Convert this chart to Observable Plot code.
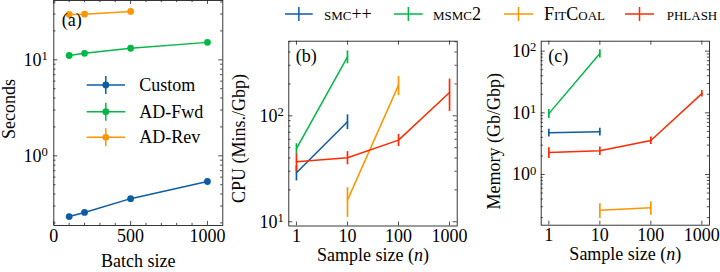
<!DOCTYPE html>
<html><head><meta charset="utf-8">
<script src="https://cdn.jsdelivr.net/npm/d3@7"></script>
<script src="https://cdn.jsdelivr.net/npm/@observablehq/plot@0.6"></script>
<style>
html,body{margin:0;padding:0;background:#fff;}
#wrap{position:relative;width:720px;height:272px;overflow:hidden;font-family:"Liberation Serif","Times New Roman",serif;}
#wrap svg{position:absolute;top:0;}
</style></head><body><div id="wrap"></div>
<script>
// ---------- data ----------
// (a) timing vs batch size
const batchSizes = [100, 200, 500, 1000];
const customSec  = [0.233, 0.257, 0.358, 0.54];
const adFwdSec   = [11.1, 11.7, 13.2, 15.2];
const adRevBatch = [100, 200, 500];
const adRevSec   = [29.7, 29.9, 31.9];
const aSeries = ["Custom", "AD-Fwd", "AD-Rev"];

// (b),(c) per method
const methods = ["smc++", "msmc2", "FitCoal", "phlash"];
const smcN   = [1, 10];
const smcCpu = [29, 88];      const smcCpuErr = [4.7, 14];
const smcMem = [4.74, 4.92];  const smcMemErr = [0.7, 0.7];
const msmcN   = [1, 10];
const msmcCpu = [49, 360];    const msmcCpuErr = [5.5, 50];
const msmcMem = [9.7, 91.4];  const msmcMemErr = [1.6, 14];
const fitN   = [10, 100];
const fitCpu = [16, 195];     const fitCpuErr = [5, 40];
const fitMem = [0.264, 0.288];const fitMemErr = [0.07, 0.07];
const phN   = [1, 10, 100, 1000];
const phCpu = [36.8, 40.2, 59, 166];   const phCpuErr = [7, 5.7, 7.8, 56];
const phMem = [2.27, 2.42, 3.56, 20.5];const phMemErr = [0.45, 0.38, 0.5, 2.5];

// tick labels
const aXTicks = [0, 500, 1000];
const aYTicks = [1, 10];
const nTicks = [1, 10, 100, 1000];
const cpuTicks = [10, 100];
const memTicks = [1, 10, 100];

const palette = ["#0C5DA5", "#00B945", "#FF9500", "#FF2C00"];
const FONT = '"Liberation Serif","Times New Roman",serif';
const FS = 18;
const H = 272;

// ---------- helpers ----------
function logMinor(lo, hi) {
  const out = [];
  for (let k = Math.floor(Math.log10(lo)); k <= Math.ceil(Math.log10(hi)); k++)
    for (let m = 2; m <= 9; m++) { const v = m * 10 ** k; if (v > lo && v < hi) out.push(v); }
  return out;
}
function frameTicks(xMaj, xMin, yMaj, yMin, iw, ih) {
  const s = {stroke: "#222", strokeWidth: 0.8};
  const big = 4, small = 2.2;
  return [
    Plot.tickX(xMaj, {insetTop: ih - big, ...s}),
    Plot.tickX(xMaj, {insetBottom: ih - big, ...s}),
    Plot.tickX(xMin, {insetTop: ih - small, ...s}),
    Plot.tickX(xMin, {insetBottom: ih - small, ...s}),
    Plot.tickY(yMaj, {insetRight: iw - big, ...s}),
    Plot.tickY(yMaj, {insetLeft: iw - big, ...s}),
    Plot.tickY(yMin, {insetRight: iw - small, ...s}),
    Plot.tickY(yMin, {insetLeft: iw - small, ...s})
  ];
}
const expFmt = d => "10^" + Math.round(Math.log10(d));
function rows(names, ns, vs, es) {
  return names.flatMap((m, k) => ns[k].map((n, i) => ({method: m, n, v: vs[k][i], err: es[k][i]})));
}
function postText(svg) {
  d3.select(svg).selectAll("text").each(function () {
    const t = this.textContent;
    const m = /^10\^(-?\d+)$/.exec(t);
    const sel = d3.select(this);
    if (m) {
      sel.text(null);
      sel.append("tspan").text("10");
      sel.append("tspan").attr("dy", "-0.45em").attr("font-size", "0.7em").text(m[1]);
    } else if (t === "Sample size (n)") {
      sel.text(null);
      sel.append("tspan").text("Sample size (");
      sel.append("tspan").attr("font-style", "italic").text("n");
      sel.append("tspan").text(")");
    }
  });
}
function place(svg, left) {
  svg.style.left = left + "px";
  postText(svg);
  document.getElementById("wrap").appendChild(svg);
}
const baseStyle = {fontFamily: FONT, fontSize: FS + "px", color: "black", background: "transparent", overflow: "visible"};

// ---------- panel (a) ----------
{
  const width = 230, mL = 53.3, mR = 7.7, mT = 0, mB = 47;
  const iw = width - mL - mR, ih = H - mT - mB;
  const yDom = [0.188, 41.5];
  const data = [
    ...batchSizes.map((b, i) => ({s: "Custom", b, v: customSec[i]})),
    ...batchSizes.map((b, i) => ({s: "AD-Fwd", b, v: adFwdSec[i]})),
    ...adRevBatch.map((b, i) => ({s: "AD-Rev", b, v: adRevSec[i]}))
  ];
  const svg = Plot.plot({
    width, height: H, marginLeft: mL, marginRight: mR, marginTop: mT, marginBottom: mB,
    style: baseStyle,
    x: {domain: [0, 1100]},
    y: {type: "log", domain: yDom},
    color: {domain: aSeries, range: palette.slice(0, 3)},
    marks: [
      ...frameTicks(aXTicks, d3.range(100, 1100, 100).filter(d => d % 500), aYTicks, logMinor(...yDom), iw, ih),
      Plot.axisX(aXTicks, {tickSize: 0, tickPadding: 4, label: null, tickFormat: d => String(d)}),
      Plot.axisY(aYTicks, {tickSize: 0, tickPadding: 6, label: null, tickFormat: expFmt}),
      Plot.line(data, {x: "b", y: "v", z: "s", stroke: "s", strokeWidth: 1.5}),
      Plot.dot(data, {x: "b", y: "v", fill: "s", r: 3.4}),
      Plot.frame({stroke: "#222", strokeWidth: 0.9}),
      Plot.text(["Batch size"], {frameAnchor: "bottom", dy: 41, lineAnchor: "bottom"}),
      Plot.text(["Seconds"], {frameAnchor: "left", textAnchor: "middle", rotate: -90, dx: -38.5, dy: -4, lineAnchor: "bottom"}),
      Plot.text(["(a)"], {frameAnchor: "top-left", dx: 8, dy: 25, lineAnchor: "bottom"})
    ]
  });
  // legend inside panel (a)
  const lg = d3.select(svg).append("g").attr("font-family", FONT).attr("font-size", FS).attr("text-anchor", "start");
  const ly = [85, 111.7, 137.3];
  aSeries.forEach((s, i) => {
    const c = palette[i];
    lg.append("line").attr("x1", 86.7).attr("x2", 125).attr("y1", ly[i]).attr("y2", ly[i]).attr("stroke", c).attr("stroke-width", 1.5);
    lg.append("line").attr("x1", 105.8).attr("x2", 105.8).attr("y1", ly[i] - 9).attr("y2", ly[i] + 9).attr("stroke", c).attr("stroke-width", 1.5);
    lg.append("circle").attr("cx", 105.8).attr("cy", ly[i]).attr("r", 3.4).attr("fill", c);
    lg.append("text").attr("x", 139.3).attr("y", ly[i]).attr("dy", "0.33em").text(s);
  });
  place(svg, 0);
}

// ---------- panels (b) and (c) ----------
function methodPanel({left, width, mL, mR, mT, mB, yDom, yTicks, vals, errs, yLabel, labelDx, labelDy, letter, letterDy}) {
  const iw = width - mL - mR, ih = H - mT - mB;
  const xDom = [10 ** -0.15, 10 ** 3.15];
  const data = rows(methods, [smcN, msmcN, fitN, phN], vals, errs);
  const svg = Plot.plot({
    width, height: H, marginLeft: mL, marginRight: mR, marginTop: mT, marginBottom: mB,
    style: baseStyle,
    x: {type: "log", domain: xDom},
    y: {type: "log", domain: yDom},
    color: {domain: methods, range: palette},
    marks: [
      ...frameTicks(nTicks, [], yTicks, logMinor(...yDom), iw, ih),
      Plot.axisX(nTicks, {tickSize: 0, tickPadding: 3, label: null, tickFormat: d => String(d)}),
      Plot.axisY(yTicks, {tickSize: 0, tickPadding: 5, label: null, tickFormat: expFmt}),
      Plot.line(data, {x: "n", y: "v", z: "method", stroke: "method", strokeWidth: 1.5}),
      Plot.ruleX(data, {x: "n", y1: d => d.v - d.err, y2: d => d.v + d.err, stroke: "method", strokeWidth: 1.7}),
      Plot.frame({stroke: "#222", strokeWidth: 0.9}),
      Plot.text(["Sample size (n)"], {frameAnchor: "bottom", dy: 34.5, lineAnchor: "bottom"}),
      Plot.text([yLabel], {frameAnchor: "left", textAnchor: "middle", rotate: -90, dx: labelDx, dy: labelDy, lineAnchor: "bottom"}),
      Plot.text([letter], {frameAnchor: "top-left", dx: 7, dy: letterDy, lineAnchor: "bottom"})
    ]
  });
  place(svg, left);
}
methodPanel({left: 230, width: 240, mL: 58.3, mR: 13.3, mT: 40.7, mB: 46.5,
  yDom: [9.12, 506], yTicks: cpuTicks,
  vals: [smcCpu, msmcCpu, fitCpu, phCpu], errs: [smcCpuErr, msmcCpuErr, fitCpuErr, phCpuErr],
  yLabel: "CPU (Mins./Gbp)", labelDx: -44, labelDy: 5, letter: "(b)", letterDy: 20.5});
methodPanel({left: 470, width: 250, mL: 70.7, mR: 11, mT: 40.7, mB: 47.3,
  yDom: [0.1506, 145], yTicks: memTicks,
  vals: [smcMem, msmcMem, fitMem, phMem], errs: [smcMemErr, msmcMemErr, fitMemErr, phMemErr],
  yLabel: "Memory (Gb/Gbp)", labelDx: -41, labelDy: 8, letter: "(c)", letterDy: 21});

// ---------- shared legend (top) ----------
{
  const svg = d3.create("svg").attr("width", 720).attr("height", 30)
    .style("left", "0px").attr("font-family", FONT).attr("font-size", FS);
  const lx = [[285, 312.7], [394, 422.7], [504, 533], [625, 654]];
  const tx = [324, 433, 544, 666.7];
  const y = 14;
  methods.forEach((m, i) => {
    const c = palette[i], [a, b] = lx[i], mid = (a + b) / 2;
    svg.append("line").attr("x1", a).attr("x2", b).attr("y1", y).attr("y2", y).attr("stroke", c).attr("stroke-width", 1.5);
    svg.append("line").attr("x1", mid).attr("x2", mid).attr("y1", y - 7).attr("y2", y + 7).attr("stroke", c).attr("stroke-width", 1.5);
    svg.append("text").attr("x", tx[i]).attr("y", y).attr("dy", "0.33em")
      .style("font-variant", "small-caps").text(m);
  });
  document.getElementById("wrap").appendChild(svg.node());
}
</script></body></html>
